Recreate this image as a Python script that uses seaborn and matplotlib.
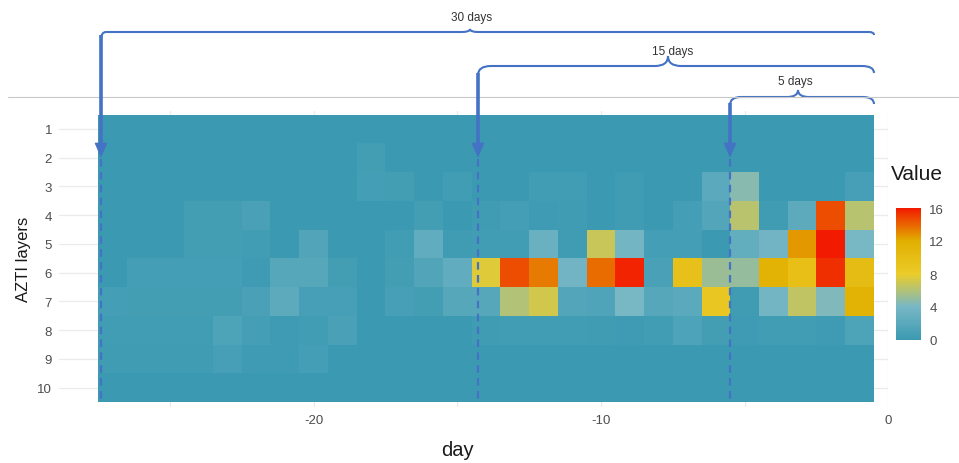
import numpy as np
import pandas as pd
import matplotlib
matplotlib.use("Agg")
import matplotlib.pyplot as plt
import seaborn as sns
from matplotlib.colors import LinearSegmentedColormap
from matplotlib.path import Path
from matplotlib.patches import PathPatch, Polygon

# ---------------- data ----------------
days = list(range(-27, 0))          # tile centres (day)
layers = list(range(1, 11))         # AZTI layers
layer_1 = [0, 0, 0, 0, 0, 0, 0, 0, 0, 0, 0, 0, 0, 0, 0, 0, 0, 0, 0, 0, 0, 0, 0, 0, 0, 0, 0]
layer_2 = [0, 0, 0, 0, 0, 0, 0, 0, 0, 0.5, 0, 0, 0, 0, 0, 0, 0, 0, 0, 0, 0, 0, 0, 0, 0, 0, 0]
layer_3 = [0, 0, 0, 0, 0, 0, 0, 0, 0, 0.6, 0.5, 0, 0.4, 0, 0, 0.4, 0.4, 0, 0.3, 0, 0, 2.0, 4.6, 0, 0, 0, 0.8]
layer_4 = [0, 0, 0, 0.5, 0.5, 1.0, 0, 0, 0, 0, 0, 0.5, 0, 0.3, 0.6, 0.2, 0.3, 0, 0.3, 0, 0.6, 1.6, 6.3, 0.3, 2.2, 14.6, 6.2]
layer_5 = [0, 0, 0, 0.5, 0.5, 0.4, 0, 1.5, 0, 0, 0.4, 2.5, 0.3, 0.4, 0.4, 3.0, 0.3, 6.8, 3.8, 0.6, 0.6, 0, 2.6, 3.6, 12.6, 16.0, 4.0]
layer_6 = [0, 0.6, 0.6, 0.6, 0.6, 0.2, 1.8, 1.8, 0.5, 0, 0.5, 1.5, 2.5, 7.6, 14.6, 13.4, 3.6, 13.8, 15.7, 1.0, 9.5, 5.2, 5.0, 11.5, 9.8, 15.4, 10.2]
layer_7 = [0.6, 0.5, 0.5, 0.5, 0.5, 1.0, 2.2, 0.8, 0.8, 0, 0.8, 0.5, 1.8, 1.8, 6.0, 7.1, 1.6, 1.4, 4.0, 1.8, 2.0, 8.8, 0.3, 3.8, 6.5, 4.3, 11.5]
layer_8 = [0.4, 0.4, 0.4, 0.4, 1.2, 0.6, 0.2, 0.4, 1.0, 0, 0, 0, 0, 0.3, 0.4, 0.4, 0.4, 0.3, 0.2, 0.4, 1.2, 0.5, 0.2, 0.4, 0.4, 0.2, 1.2]
layer_9 = [0.3, 0.3, 0.3, 0.3, 0.8, 0.2, 0.2, 0.6, 0, 0, 0, 0, 0, 0, 0, 0, 0, 0, 0, 0, 0, 0, 0, 0, 0, 0, 0]
layer_10 = [0, 0, 0, 0, 0, 0, 0, 0, 0, 0, 0, 0, 0, 0, 0, 0, 0, 0, 0, 0, 0, 0, 0, 0, 0, 0, 0]

x_ticks = [-20, -10, 0]
x_minor = [-25, -15, -5]
cbar_ticks = [0, 4, 8, 12, 16]
windows = ["30 days", "15 days", "5 days"]

palette = ["#3B9AB2", "#78B7C5", "#EBCC2A", "#E1AF00", "#F21A00"]  # Zissou1

rows = [layer_1, layer_2, layer_3, layer_4, layer_5, layer_6, layer_7, layer_8, layer_9, layer_10]
df = pd.DataFrame(rows, index=layers, columns=days)

# ---------------- figure ----------------
sns.set_style("white")
plt.rcParams["font.family"] = ["Liberation Sans", "DejaVu Sans"]

W, H = 959, 464
fig = plt.figure(figsize=(W / 100, H / 100), dpi=100)

cell = 28.74
hm_left, hm_top = 98.0, 115.6
pan_left, pan_top, pan_bot = 59.0, 112.0, 408.0
x_lo = (pan_left - hm_left) / cell
x_hi = 27.5  # day 0
pan_right = hm_left + x_hi * cell
y_top = (pan_top - hm_top) / cell
y_bot = (pan_bot - hm_top) / cell

ax = fig.add_axes([pan_left / W, 1 - pan_bot / H, (pan_right - pan_left) / W, (pan_bot - pan_top) / H])
cax = fig.add_axes([896 / W, 1 - 341 / H, 25 / W, 132 / H])

cmap = LinearSegmentedColormap.from_list("zissou", palette)
sns.heatmap(df, ax=ax, cmap=cmap, vmin=0, vmax=16, cbar_ax=cax,
            xticklabels=False, yticklabels=False, linewidths=0)

ax.set_facecolor("white")
ax.set_axisbelow(True)
ax.set_xlim(x_lo, x_hi)
ax.set_ylim(y_bot, y_top)
ax.set_xticks([t + 27.5 for t in x_ticks])
ax.set_xticklabels([str(t) for t in x_ticks])
ax.set_xticks([t + 27.5 for t in x_minor], minor=True)
ax.set_yticks([i + 0.5 for i in range(len(layers))])
ax.set_yticklabels([str(l) for l in layers])
ax.grid(True, which="both", color="#ebebeb", lw=0.9)
ax.tick_params(axis="both", which="both", length=0, labelsize=9.5, labelcolor="#4d4d4d", pad=5)
for s in ax.spines.values():
    s.set_visible(False)
ax.set_xlabel("")
ax.set_ylabel("")

cbar = ax.collections[0].colorbar
cbar.outline.set_visible(False)
cbar.set_ticks(cbar_ticks)
cax.tick_params(axis="y", direction="in", length=4, width=0.8, color="white",
                labelsize=9.5, labelcolor="#4d4d4d", pad=6, left=True, right=True)

# ---------------- overlay annotations (pixel coords) ----------------
ov = fig.add_axes([0, 0, 1, 1])
ov.set_xlim(0, W)
ov.set_ylim(H, 0)
ov.axis("off")
ov.patch.set_alpha(0)
ov.set_zorder(5)

blue = "#4472C4"

ov.plot([8, W], [98, 98], color="#c8c8c8", lw=0.8)


def brace(x0, x1, y, xp, h, d0, d1, r0, rc, r1):
    verts = [(x0, y + d0), (x0, y), (x0 + r0, y),
             (xp - rc, y), (xp, y), (xp, y - h),
             (xp, y), (xp + rc, y),
             (x1 - r1, y), (x1, y), (x1, y + d1)]
    codes = [Path.MOVETO, Path.CURVE3, Path.CURVE3,
             Path.LINETO, Path.CURVE3, Path.CURVE3,
             Path.CURVE3, Path.CURVE3,
             Path.LINETO, Path.CURVE3, Path.CURVE3]
    ov.add_patch(PathPatch(Path(verts, codes), fill=False, edgecolor=blue, lw=1.5))


def arrow(x, y0):
    ov.plot([x, x], [y0, 146], color=blue, lw=2.6, solid_capstyle="butt")
    ov.add_patch(Polygon([(x - 6, 144), (x + 6, 144), (x, 158)], closed=True,
                         facecolor=blue, edgecolor=blue, lw=0.5))
    ov.plot([x, x], [160, 401], color=blue, lw=1.6, ls=(0, (3.4, 2.4)))


brace(101, 874, 33, 470, 3, 8, 3, 5, 8, 5)
brace(478, 874, 67, 668, 10, 9, 7, 13, 13, 12)
brace(730, 874, 98, 798, 7, 8, 7, 11, 11, 11)
arrow(101, 36)
arrow(478, 74)
arrow(730, 104)

ov.text(472, 18, windows[0], ha="center", va="center", fontsize=8.5, color="#333333")
ov.text(673, 52, windows[1], ha="center", va="center", fontsize=8.5, color="#333333")
ov.text(795, 82, windows[2], ha="center", va="center", fontsize=8.5, color="#333333")

ov.text(23.5, 259.5, "AZTI layers", rotation=90, ha="center", va="center", fontsize=12, color="#1a1a1a")
ov.text(457, 451, "day", ha="center", va="center", fontsize=14.5, color="#1a1a1a")
ov.text(891, 175, "Value", ha="left", va="center", fontsize=15, color="#1a1a1a")

fig.savefig("out.png", dpi=100)
